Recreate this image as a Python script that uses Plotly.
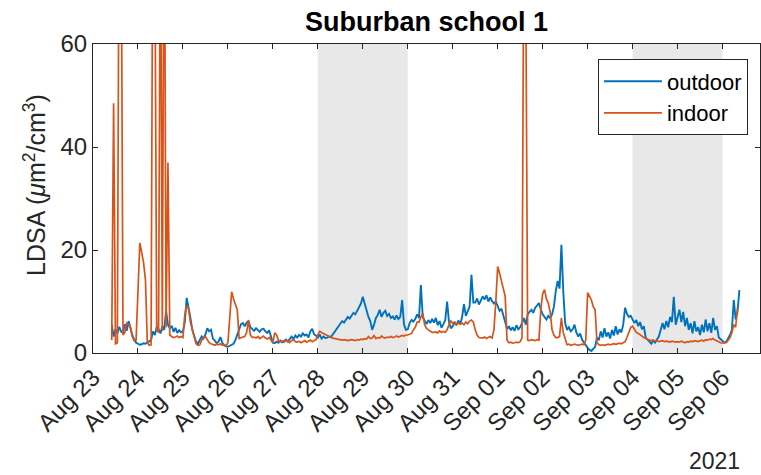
import pandas as pd
import plotly.graph_objects as go

# ---------------- data (hourly samples, LDSA in um^2/cm^3) ----------------
start_time = "2021-08-23 10:00"

outdoor = [
    # Aug 23 (10:00-23:00)
    5.5, 3.2, 4.6, 3.8, 5.1, 4.2, 3.9, 5.6, 4.3, 6.2, 4.8, 3.4, 2.6, 2.0,
    # Aug 24
    1.8, 1.6, 1.7, 1.9, 1.8, 2.0, 2.2, 2.5, 4.2, 3.5, 5.0, 4.6, 3.8, 5.2, 4.5, 8.2, 5.5, 4.8, 5.3, 4.1, 4.9, 3.9, 4.4, 4.0,
    # Aug 25
    4.2, 6.0, 10.7, 9.0, 6.8, 4.5, 3.5, 2.2, 1.8, 2.5, 3.2, 2.8, 3.6, 4.8, 4.2, 4.5, 2.8, 2.4, 1.9, 2.2, 3.1, 2.0, 1.5, 1.3,
    # Aug 26
    1.2, 1.4, 1.6, 1.8, 2.5, 3.5, 4.8, 5.6, 5.8, 5.2, 5.9, 6.2, 5.0, 4.6, 4.3, 4.8, 4.4, 4.1, 4.6, 4.7, 4.2, 3.9, 4.4, 3.0,
    # Aug 27
    2.0, 1.9, 2.2, 2.0, 2.4, 2.1, 2.3, 2.6, 2.2, 2.8, 3.2, 2.7, 3.4, 3.0, 3.5, 3.2, 3.8, 3.4, 3.6, 3.0, 4.2, 4.7, 3.6, 3.4,
    # Aug 28
    3.0, 3.6, 2.8, 3.2, 2.9, 3.0, 3.2, 3.1, 3.6, 4.0, 4.5, 5.2, 5.6, 6.2, 5.9, 6.6, 7.0, 6.7, 7.4, 7.8, 7.5, 8.3, 8.8, 9.6,
    # Aug 29
    10.9, 9.5, 8.2, 7.0, 6.2, 4.5, 5.5, 6.8, 7.4, 8.4, 7.0, 7.8, 8.2, 7.2, 7.6, 6.8, 7.1, 6.5, 7.3, 6.6, 7.0, 10.3, 5.5, 4.5,
    # Aug 30
    4.6, 5.8, 6.4, 6.1, 6.6, 7.5, 6.8, 13.2, 7.0, 6.2, 5.6, 6.4, 5.8, 6.6, 5.9, 6.8, 5.4, 6.2, 4.9, 5.6, 6.4, 10.0, 6.0, 4.8,
    # Aug 31
    5.2, 6.0, 5.4, 6.3, 5.6, 7.0, 9.5, 7.2, 8.0, 9.0, 15.2, 9.8, 9.8, 10.6, 9.4, 10.2, 11.0, 10.4, 11.2, 10.0, 10.8, 10.1, 9.6, 10.0,
    # Sep 01
    9.0, 8.2, 8.6, 7.5, 6.0, 4.6, 5.2, 4.4, 5.0, 4.3, 5.4, 4.6, 5.0, 5.8, 6.8, 5.5, 7.5, 8.0, 8.4, 7.8, 8.8, 9.2, 9.7, 8.5,
    # Sep 02
    7.5, 7.0, 6.5, 7.2, 6.8, 7.5, 9.0, 12.0, 14.0, 12.5, 21.0, 12.0, 5.8, 4.5, 5.0, 4.2, 4.6, 5.5, 4.0, 3.2, 3.8, 2.6, 2.0, 1.5,
    # Sep 03
    1.0, 0.6, 0.4, 0.8, 1.2, 3.0, 2.5, 4.2, 3.0, 4.8, 3.2, 4.0, 2.8, 4.5, 3.4, 5.2, 3.6, 4.6, 4.0, 5.5, 8.8, 7.6, 7.0, 7.2,
    # Sep 04
    6.5, 5.8, 6.4, 5.2, 6.0, 4.6, 5.2, 3.0, 2.6, 2.2, 1.8, 2.4, 2.0, 2.6, 3.2, 4.5, 5.8, 4.6, 6.2, 5.0, 7.0, 6.0, 10.9, 5.5,
    # Sep 05
    7.0, 8.4, 6.0, 8.0, 5.2, 6.8, 4.5, 5.8, 3.8, 6.2, 4.2, 5.0, 3.5, 5.5, 4.0, 6.5, 4.2, 5.8, 3.9, 6.8, 4.5, 5.2, 3.0, 2.6,
    # Sep 06 (00:00-09:00)
    2.4, 2.0, 2.2, 2.8, 3.5, 4.5, 10.3, 6.5, 8.0, 12.2,
]

indoor = [
    # Aug 23 (10:00-23:00)
    2.5, 48.5, 1.8, 2.0, 95, 90, 3.5, 4.0, 5.8, 5.5, 5.0, 3.2, 2.4, 2.5,
    # Aug 24
    12, 21.4, 19.5, 17.5, 14.2, 2.0, 1.5, 1.6, 95, 80, 4.5, 4.0, 90, 4.2, 100, 5.0, 37, 3.5, 3.2, 3.0, 3.1, 3.3, 3.0, 3.2,
    # Aug 25
    3.0, 7.5, 9.2, 8.6, 6.0, 4.5, 3.0, 1.8, 1.5, 1.6, 2.5, 3.0, 3.2, 2.6, 2.0, 1.8, 1.6, 1.5, 1.7, 1.6, 1.8, 1.5, 1.6, 1.4,
    # Aug 26
    2.0, 7.0, 11.9, 10.5, 9.5, 8.4, 2.8, 3.0, 3.1, 3.2, 4.0, 6.4, 3.5, 3.0, 3.1, 2.9, 3.2, 2.8, 3.0, 3.3, 2.9, 2.7, 3.0, 2.6,
    # Aug 27
    2.0, 3.9, 3.5, 2.4, 2.2, 2.3, 2.1, 2.5, 2.2, 2.0, 2.4, 2.6, 2.2, 2.1, 2.3, 2.0, 2.2, 2.4, 2.1, 2.3, 2.5, 2.2, 2.4, 2.6,
    # Aug 28
    3.5, 4.2, 4.0, 3.8, 3.5, 3.4, 3.2, 3.0, 2.9, 2.8, 2.7, 2.6, 2.6, 2.5, 2.6, 2.5, 2.4, 2.5, 2.6, 2.5, 2.4, 2.6, 2.5, 2.7,
    # Aug 29
    2.6, 2.8, 2.7, 3.2, 2.8, 2.9, 3.4, 2.8, 3.0, 2.9, 3.3, 3.0, 2.9, 3.1, 3.0, 3.2, 3.0, 3.1, 3.3, 3.1, 3.2, 3.4, 3.3, 3.5,
    # Aug 30
    3.5, 3.6, 3.8, 4.5, 5.0, 6.0, 6.0, 7.0, 7.7, 5.5, 4.8, 4.5, 4.2, 4.0, 4.0, 4.1, 3.9, 4.3, 4.0, 4.2, 4.0, 4.5, 5.5, 6.2,
    # Aug 31
    5.8, 6.0, 5.5, 5.8, 5.6, 5.8, 5.5, 6.0, 5.7, 6.2, 6.4, 6.0, 4.5, 3.5, 3.0, 3.0, 2.9, 3.1, 2.8, 3.0, 3.2, 2.9, 4.5, 10.0,
    # Sep 01
    16.8, 15.5, 14.2, 12.5, 11.0, 2.5, 2.0, 2.1, 1.9, 2.0, 2.1, 2.0, 2.2, 3.0, 90, 70, 2.5, 2.4, 2.6, 2.5, 2.4, 2.6, 2.5, 8.4,
    # Sep 02
    11.5, 12.3, 10.5, 9.7, 8.0, 4.5, 3.5, 3.0, 3.0, 3.2, 6.8, 4.0, 2.5, 1.6, 1.7, 1.5, 1.6, 1.7, 1.6, 1.5, 1.6, 1.7, 1.6, 2.5,
    # Sep 03
    11.7, 11.0, 10.3, 9.0, 8.4, 2.0, 1.6, 1.5, 1.6, 1.5, 1.6, 1.7, 1.6, 1.7, 1.8, 1.7, 1.8, 1.9, 1.8, 2.0, 2.2, 3.0, 4.0, 5.0,
    # Sep 04
    5.2, 4.5, 4.0, 3.8, 3.5, 3.2, 3.0, 2.8, 2.6, 2.5, 2.4, 2.5, 2.3, 2.4, 2.2, 2.3, 2.4, 2.2, 2.3, 2.2, 2.1, 2.3, 2.2, 2.1,
    # Sep 05
    2.2, 2.1, 2.3, 2.2, 2.0, 2.2, 2.1, 2.3, 2.2, 2.4, 2.3, 2.2, 2.4, 2.5, 2.3, 2.6, 2.5, 2.7, 2.6, 2.8, 2.5, 2.4, 2.2, 2.0,
    # Sep 06 (00:00-08:00)
    1.9, 2.0, 2.0, 2.5, 3.0, 4.0, 5.5, 5.0, 8.8,
]

weekend_starts = ["2021-08-28", "2021-09-04"]
weekend_days = 2
x_range = ["2021-08-23 00:00", "2021-09-06 20:00"]
y_ticks = [0, 20, 40, 60]
title_text = "Suburban school 1"
ylabel_text = "LDSA (<i>μ</i>m<sup>2</sup>/cm<sup>3</sup>)"
year_text = "2021"

# ---------------- figure ----------------
t_out = pd.date_range(start_time, periods=len(outdoor), freq="h")
t_in = pd.date_range(start_time, periods=len(indoor), freq="h")

BLUE = "#0072BD"
ORANGE = "#D95319"
AX = "#262626"
FONT = "Liberation Sans, Arial, Helvetica, sans-serif"

fig = go.Figure()
fig.add_trace(go.Scatter(x=t_out, y=outdoor, mode="lines", name="outdoor",
                         line=dict(color=BLUE, width=1.9)))
fig.add_trace(go.Scatter(x=t_in, y=indoor, mode="lines", name="indoor",
                         line=dict(color=ORANGE, width=1.7)))

for ws in weekend_starts:
    we = pd.Timestamp(ws) + pd.Timedelta(days=weekend_days)
    fig.add_vrect(x0=ws, x1=we, fillcolor="#e8e8e8", line_width=0, layer="below")

fig.update_layout(
    width=761, height=475,
    margin=dict(l=93, r=1, t=44, b=122),
    paper_bgcolor="white", plot_bgcolor="white",
    font=dict(family=FONT, size=22, color=AX),
    title=dict(text="<b>" + title_text + "</b>", x=0.5, xref="paper", xanchor="center",
               y=0.955, yref="container", yanchor="middle",
               font=dict(size=27, color="black")),
    showlegend=True,
    legend=dict(x=0.757, y=0.95, xanchor="left", yanchor="top",
                bgcolor="white", bordercolor=AX, borderwidth=1,
                font=dict(size=22, color="black"), itemwidth=58,
                tracegroupgap=0),
)

fig.update_xaxes(
    range=x_range, type="date",
    dtick=86400000, tick0="2021-08-23", tickformat="%b %d",
    tickangle=-45, ticks="inside", ticklen=5, tickwidth=1, tickcolor=AX,
    showline=True, linecolor=AX, linewidth=1, mirror="ticks",
    showgrid=False, zeroline=False,
    tickfont=dict(size=24, color=AX),
)
fig.update_yaxes(
    range=[0, 60], tickvals=y_ticks,
    ticks="inside", ticklen=5, tickwidth=1, tickcolor=AX,
    showline=True, linecolor=AX, linewidth=1, mirror="ticks",
    showgrid=False, zeroline=False,
    tickfont=dict(size=24, color=AX),
)

# y-axis label (placed as rotated text to match the reference position)
fig.add_annotation(text=ylabel_text, xref="paper", yref="paper",
                   x=-0.088, y=0.545, xanchor="center", yanchor="middle",
                   textangle=-90, showarrow=False,
                   font=dict(size=25, color=AX))

fig.add_annotation(text=year_text, xref="paper", yref="paper",
                   x=0.973, y=-0.35, xanchor="right", yanchor="middle",
                   showarrow=False, font=dict(size=23, color=AX))

fig.write_html("out.html")
